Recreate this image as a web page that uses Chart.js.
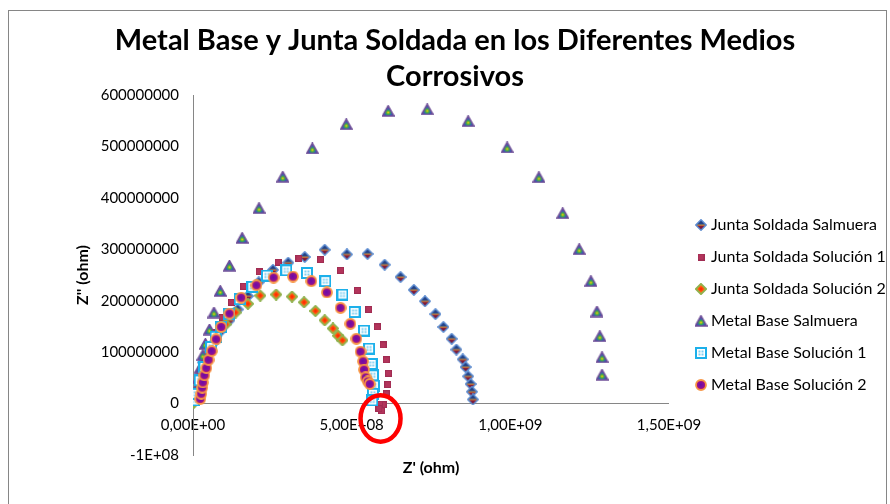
<!DOCTYPE html>
<html><head><meta charset="utf-8">
<script src="https://cdn.jsdelivr.net/npm/chart.js@4/dist/chart.umd.min.js"></script>
<style>html,body{margin:0;padding:0;background:#fff}#wrap{width:890px;height:504px;position:relative}</style>
</head><body><div id="wrap"><canvas id="c" width="890" height="504"></canvas></div>
<script>
// ---- data (ohm) ----
const seriesNames = ["Junta Soldada Salmuera","Junta Soldada Solución 1","Junta Soldada Solución 2","Metal Base Salmuera","Metal Base Solución 1","Metal Base Solución 2"];

const jssSalX = [0.06e8,0.11e8,0.17e8,0.24e8,0.33e8,0.46e8,0.62e8,0.89e8,1.15e8,1.41e8,1.73e8,2.07e8,2.52e8,3.00e8,3.52e8,4.15e8,4.85e8,5.50e8,6.04e8,6.54e8,6.96e8,7.31e8,7.64e8,7.89e8,8.15e8,8.30e8,8.50e8,8.59e8,8.67e8,8.75e8,8.79e8,8.82e8];
const jssSalY = [0.10e8,0.23e8,0.41e8,0.60e8,0.80e8,0.99e8,1.16e8,1.42e8,1.62e8,1.83e8,2.09e8,2.36e8,2.60e8,2.74e8,2.85e8,2.99e8,2.90e8,2.91e8,2.70e8,2.46e8,2.21e8,1.99e8,1.74e8,1.49e8,1.26e8,1.05e8,0.86e8,0.71e8,0.53e8,0.38e8,0.23e8,0.08e8];

const jss1X = [0.07e8,0.16e8,0.27e8,0.40e8,0.55e8,0.71e8,0.92e8,1.21e8,1.60e8,2.08e8,2.68e8,3.34e8,4.02e8,4.65e8,5.18e8,5.54e8,5.81e8,5.99e8,6.09e8,6.16e8,6.14e8,6.09e8,5.99e8,5.88e8,5.94e8,5.86e8];
const jss1Y = [0.10e8,0.30e8,0.55e8,0.82e8,1.11e8,1.38e8,1.67e8,1.97e8,2.28e8,2.56e8,2.75e8,2.82e8,2.80e8,2.59e8,2.20e8,1.83e8,1.49e8,1.14e8,0.85e8,0.59e8,0.37e8,0.19e8,-0.02e8,-0.01e8,-0.14e8,-0.10e8];

const jss2X = [0.02e8,0.04e8,0.08e8,0.12e8,0.16e8,0.21e8,0.33e8,0.52e8,0.74e8,1.03e8,1.34e8,1.73e8,2.12e8,2.62e8,3.12e8,3.50e8,3.86e8,4.15e8,4.41e8,4.57e8,4.71e8];
const jss2Y = [0.02e8,0.04e8,0.06e8,0.12e8,0.26e8,0.43e8,0.70e8,0.99e8,1.27e8,1.54e8,1.77e8,1.94e8,2.10e8,2.12e8,2.08e8,1.97e8,1.80e8,1.62e8,1.46e8,1.32e8,1.23e8];

const mbSalX = [0.06e8,0.11e8,0.17e8,0.24e8,0.31e8,0.39e8,0.52e8,0.66e8,0.86e8,1.15e8,1.55e8,2.08e8,2.83e8,3.76e8,4.83e8,6.15e8,7.38e8,8.67e8,9.90e8,10.90e8,11.65e8,12.17e8,12.54e8,12.73e8,12.82e8,12.89e8,12.89e8];
const mbSalY = [0.14e8,0.29e8,0.49e8,0.70e8,0.94e8,1.16e8,1.44e8,1.77e8,2.19e8,2.68e8,3.22e8,3.80e8,4.41e8,4.96e8,5.43e8,5.69e8,5.72e8,5.49e8,4.98e8,4.40e8,3.70e8,3.00e8,2.38e8,1.79e8,1.31e8,0.90e8,0.56e8];

const mb1X = [0.03e8,0.10e8,0.21e8,0.36e8,0.57e8,0.71e8,0.89e8,1.13e8,1.47e8,1.87e8,2.33e8,2.94e8,3.59e8,4.17e8,4.71e8,5.09e8,5.39e8,5.55e8,5.63e8,5.67e8,5.70e8,5.67e8,5.65e8];
const mb1Y = [0.06e8,0.19e8,0.45e8,0.71e8,1.10e8,1.30e8,1.49e8,1.75e8,2.03e8,2.27e8,2.49e8,2.59e8,2.54e8,2.38e8,2.12e8,1.78e8,1.42e8,1.07e8,0.77e8,0.55e8,0.35e8,0.19e8,0.06e8];

const mb2X = [0.23e8,0.26e8,0.29e8,0.31e8,0.36e8,0.42e8,0.49e8,0.59e8,0.73e8,0.89e8,1.15e8,1.52e8,2.00e8,2.54e8,3.15e8,3.73e8,4.22e8,4.65e8,4.96e8,5.15e8,5.28e8,5.36e8,5.39e8,5.44e8,5.51e8,5.57e8];
const mb2Y = [0.09e8,0.19e8,0.31e8,0.41e8,0.55e8,0.69e8,0.85e8,1.02e8,1.25e8,1.49e8,1.75e8,2.06e8,2.30e8,2.45e8,2.47e8,2.38e8,2.16e8,1.86e8,1.55e8,1.26e8,1.01e8,0.82e8,0.66e8,0.51e8,0.43e8,0.38e8];

const xTicksMin = 0, xTicksMax = 1.5e9, xStep = 5e8;
const yTicksMin = -1e8, yTicksMax = 6e8, yStep = 1e8;
// highlighted region (red ellipse) in data units
const markX = 5.91e8, markY = -0.29e8, markRX = 0.63e8, markRY = 0.45e8;

// ---- styles ----
const FONT = 'Lato, "Open Sans", sans-serif';
const AXIS = '#868686';
function mk(w,h,draw){const c=document.createElement('canvas');c.width=w;c.height=h;draw(c.getContext('2d'),w,h);return c;}
const imgJssSal = mk(12,12,(g)=>{
  g.beginPath();g.moveTo(6,0.8);g.lineTo(11.2,6);g.lineTo(6,11.2);g.lineTo(0.8,6);g.closePath();
  const gr=g.createLinearGradient(0,1,0,11);gr.addColorStop(0,'#1d3a7a');gr.addColorStop(0.42,'#27468a');gr.addColorStop(0.5,'#f2b233');gr.addColorStop(0.6,'#8a1f3d');gr.addColorStop(1,'#6a1030');
  g.fillStyle=gr;g.fill();g.lineWidth=1.5;g.strokeStyle='#5b8bd0';g.stroke();
});
const imgJss1 = mk(7,7,(g)=>{g.fillStyle='#b3345b';g.fillRect(0.5,0.5,6,6);g.strokeStyle='#a02c52';g.lineWidth=1;g.strokeRect(0.5,0.5,6,6);});
const imgJss2 = mk(12,12,(g)=>{
  g.beginPath();g.moveTo(6,0.8);g.lineTo(11.2,6);g.lineTo(6,11.2);g.lineTo(0.8,6);g.closePath();
  const gr=g.createRadialGradient(6,6,0,6,6,5);gr.addColorStop(0,'#ff1a00');gr.addColorStop(1,'#ffa020');
  g.fillStyle=gr;g.fill();g.lineWidth=1.8;g.strokeStyle='#8fb24e';g.stroke();
});
const imgMbSal = mk(13,12,(g)=>{
  g.beginPath();g.moveTo(6.5,0.8);g.lineTo(12.2,11);g.lineTo(0.8,11);g.closePath();
  const gr=g.createRadialGradient(6.5,7.5,0,6.5,7.5,6);gr.addColorStop(0,'#ffcc00');gr.addColorStop(0.3,'#40b040');gr.addColorStop(0.6,'#2a5cc0');gr.addColorStop(1,'#5a3a90');
  g.fillStyle=gr;g.fill();g.lineWidth=1.6;g.strokeStyle='#6f4f98';g.stroke();
});
const imgMb1 = mk(12,12,(g)=>{
  g.fillStyle='#ffffff';g.fillRect(1,1,10,10);
  g.fillStyle='#7fd0f2';g.fillRect(3.5,3.5,2,2);g.fillRect(6.5,3.5,2,2);g.fillRect(3.5,6.5,2,2);g.fillRect(6.5,6.5,2,2);
  g.lineWidth=2;g.strokeStyle='#1cb0ea';g.strokeRect(1,1,10,10);
});
const imgMb2 = mk(12,12,(g)=>{
  g.beginPath();g.arc(6,6,5,0,Math.PI*2);
  const gr=g.createRadialGradient(5.5,5.5,0,6,6,5);gr.addColorStop(0,'#6a0aa8');gr.addColorStop(0.6,'#8a1098');gr.addColorStop(1,'#d02050');
  g.fillStyle=gr;g.fill();g.lineWidth=1.8;g.strokeStyle='#f79646';g.stroke();
});

function pts(xs,ys){return xs.map((x,i)=>({x:x,y:ys[i]}));}
const seriesData = [pts(jssSalX,jssSalY),pts(jss1X,jss1Y),pts(jss2X,jss2Y),pts(mbSalX,mbSalY),pts(mb1X,mb1Y),pts(mb2X,mb2Y)];
const seriesImgs = [imgJssSal,imgJss1,imgJss2,imgMbSal,imgMb1,imgMb2];

const datasets = seriesNames.map((n,i)=>({
  label:n, data:seriesData[i], pointStyle:seriesImgs[i], pointRadius:5, pointHoverRadius:5,
  order:5-i, showLine:false
}));

function fmtE(v){const p=Number(v).toExponential(2).split('e');const sign=p[1][0];const d=p[1].slice(1).padStart(2,'0');return p[0].replace('.',',')+'E'+sign+d;}

const framePlugin = {id:'frame',
  afterDraw(chart){const c=chart.ctx;c.save();c.strokeStyle=AXIS;c.lineWidth=1;c.strokeRect(8.5,10.5,878,520);c.restore();
    const xs=chart.scales.x, ys=chart.scales.y;
    const cx=xs.getPixelForValue(markX), cy=ys.getPixelForValue(markY);
    const rx=Math.abs(xs.getPixelForValue(markX+markRX)-cx), ry=Math.abs(ys.getPixelForValue(markY+markRY)-cy);
    c.save();c.beginPath();c.ellipse(cx,cy,rx,ry,0,0,Math.PI*2);c.strokeStyle='#ff0000';c.lineWidth=4.5;c.stroke();c.restore();
  }};

new Chart(document.getElementById('c'),{
  type:'scatter',
  data:{datasets},
  plugins:[framePlugin],
  options:{
    responsive:false, animation:false, devicePixelRatio:1,
    layout:{padding:{left:20,right:0,top:0,bottom:0}},
    plugins:{
      title:{display:true,text:['Metal Base y Junta Soldada en los Diferentes Medios','Corrosivos'],color:'#000',
        font:{family:FONT,size:29,weight:'bold',lineHeight:36/29},padding:{top:23,bottom:0}},
      legend:{position:'right',fullSize:false,maxWidth:207,
        title:{display:true,text:'',padding:{top:45.6,bottom:0}},
        labels:{usePointStyle:true,boxWidth:4,padding:16,color:'#000',font:{family:FONT,size:16},
          sort:(a,b)=>a.datasetIndex-b.datasetIndex}},
      tooltip:{enabled:false}
    },
    scales:{
      x:{type:'linear',position:'bottom',min:xTicksMin,max:xTicksMax,
        afterFit:(s)=>{s.height=49;},
        ticks:{stepSize:xStep,mirror:true,padding:21,maxRotation:0,autoSkip:false,color:'#000',font:{family:FONT,size:15},callback:(v)=>fmtE(v)},
        grid:{display:false,drawTicks:false},border:{display:false},
        title:{display:true,text:"Z' (ohm)",color:'#000',font:{family:FONT,size:16,weight:'bold'},padding:{top:0,bottom:26.5}}},
      y:{type:'linear',position:'left',min:yTicksMin,max:yTicksMax,
        afterFit:(s)=>{s.width=173;},
        ticks:{stepSize:yStep,padding:14,color:'#000',font:{family:FONT,size:15},
          callback:(v)=> v===-1e8 ? '-1E+08' : String(Math.round(v))},
        grid:{drawTicks:false,color:(c)=> (c.tick && c.tick.value===0) ? AXIS : 'rgba(0,0,0,0)'},
        border:{display:true,color:AXIS},
        title:{display:true,text:"Z'' (ohm)",color:'#000',font:{family:FONT,size:16,weight:'bold'},padding:{top:53,bottom:0}}},
      y2:{type:'linear',position:'right',display:true,afterFit:(s)=>{s.width=14;},
        ticks:{display:false},grid:{display:false},border:{display:false}}
    }
  }
});
</script></body></html>
